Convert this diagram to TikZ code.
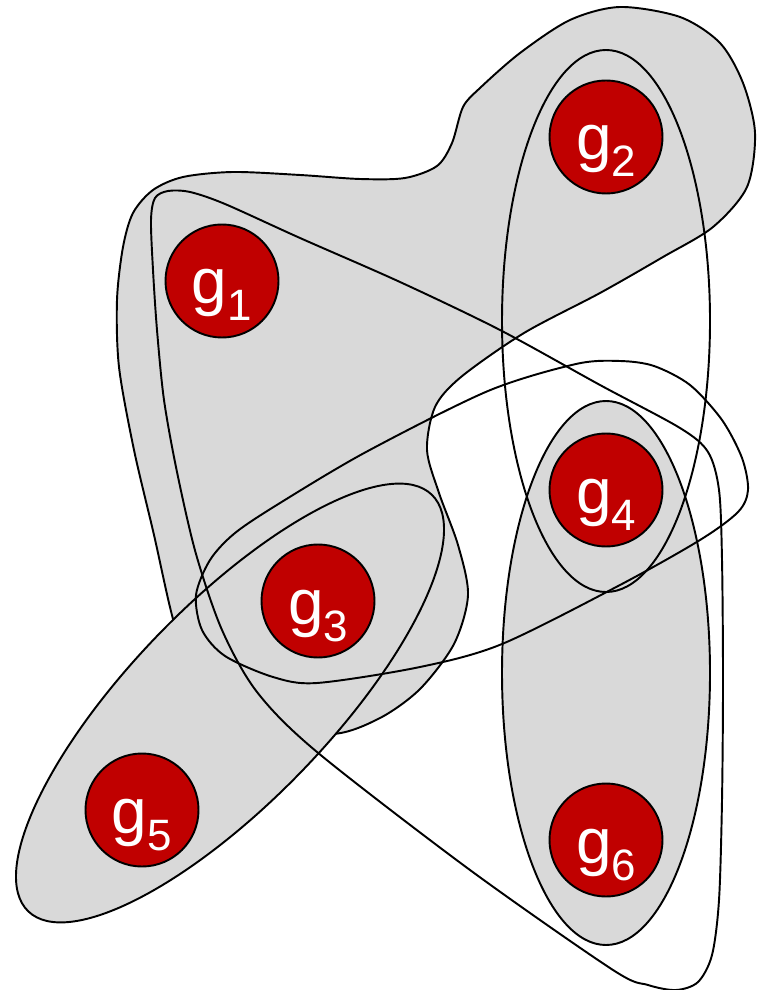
\documentclass[tikz,border=0pt]{standalone}
\usepackage{fontspec}
\setmainfont{Liberation Sans}
\definecolor{genered}{RGB}{192,0,0}
\definecolor{edgegray}{RGB}{217,217,217}
\newcommand{\gsub}[1]{g\raisebox{-1.7mm}{\fontsize{12.5pt}{12.5pt}\selectfont #1}}

\begin{document}
\begin{tikzpicture}[x=0.1mm, y=-0.1mm, line width=0.55pt,
    gene/.style={circle, fill=genered, draw=black, minimum size=11.3mm, inner sep=0pt,
        text=white, font=\fontsize{18.2pt}{18.2pt}\selectfont, text height=6.3mm, text depth=1.7mm}]
    \useasboundingbox (0,0) rectangle (765,990);

    % Shaded edge g1-g2-g3
    \filldraw[fill=edgegray] plot[smooth cycle] coordinates {
        (123,247) (133,213) (153,190) (183,177) (233,172) (300,175) (360,179) (405,178)
        (437,166) (452,143) (463,107) (480,88) (520,53) (570,20) (620,7) (680,17)
        (720,43) (743,83) (755,133) (747,187) (713,227) (663,257) (600,293) (524,333)
        (461,377) (435,407) (427,450) (439,493) (458,545) (468,595) (454,644) (420,689)
        (380,718) (332,734) (260,722) (195,685) (173,619) (154,535) (134,450) (119,367) (117,300)};

    % Shaded edge g3-g5
    \filldraw[fill=edgegray, rotate around={45.9:(230,703)}]
        (230,703) ellipse [x radius=290, y radius=99];

    % Shaded edge g4-g6
    \filldraw[fill=edgegray] (606,673) ellipse [x radius=104, y radius=272];

    % Open edge g2-g4
    \draw (606,321) ellipse [x radius=104, y radius=271];

    % Open edge g1-g3-g4-g6
    \draw plot[smooth cycle] coordinates {
        (151,220) (155,198) (168,191) (190,192) (225,204) (300,238) (400,282) (500,330)
        (600,385) (680,428) (708,452) (719,490) (722,560) (723,680) (722,800) (719,900)
        (712,955) (698,982) (676,990) (648,985) (613,970) (470,870)
        (317,752) (257,692) (222,630) (196,554) (177,472) (164,400) (157,330) (153,270)};

    % Open edge g3-g4
    \draw plot[smooth cycle] coordinates {
        (196,595) (210,560) (235,533) (280,503) (366,452) (488,391) (576,364) (620,361)
        (654,366) (690,385) (722,420) (742,458) (748,490) (738,512) (700,540) (620,585)
        (502,644) (420,667) (317,683) (273,677) (225,656) (202,630)};

    % Genes
    \foreach \n/\x/\y in {1/222/281, 2/606/137, 3/318/601, 4/606/490, 5/142/810, 6/606/840} {
        \node[gene] (g\n) at (\x,\y) {\gsub{\n}};
    }
\end{tikzpicture}
\end{document}
